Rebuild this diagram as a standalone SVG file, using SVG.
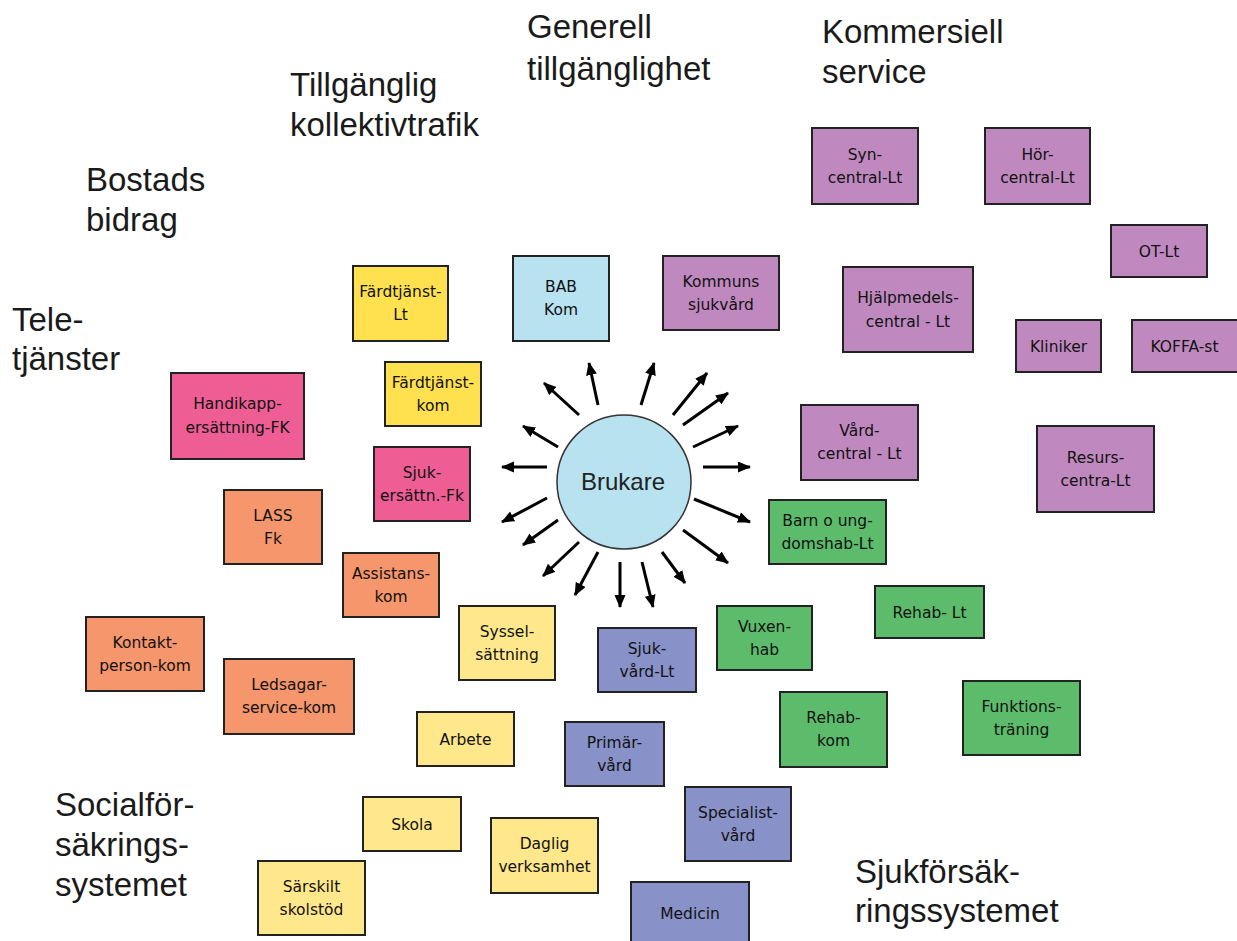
<svg xmlns="http://www.w3.org/2000/svg" width="1237" height="941" viewBox="0 0 1237 941">
<defs>
<marker id="ah" markerUnits="userSpaceOnUse" markerWidth="14" markerHeight="12" refX="12" refY="5.5" orient="auto">
<path d="M0,0 L13,5.5 L0,11 Z" fill="#000"/>
</marker>
<style>
.b rect{stroke:#222;stroke-width:2}
.b text{font-family:"DejaVu Sans","Liberation Sans",sans-serif;font-size:15.5px;fill:#111;text-anchor:middle}
.pu rect{fill:#bf89bf}
.gr rect{fill:#5cbc6c}
.bl rect{fill:#8892c8}
.lb rect{fill:#b8e2f0}
.ye rect{fill:#ffe150}
.pk rect{fill:#ee5e94}
.or rect{fill:#f5966c}
.ly rect{fill:#ffe88c}
.cat{font-family:"Liberation Sans",Arial,sans-serif;font-size:33px;fill:#1a1a1a}
.arr line{stroke:#000;stroke-width:3;marker-end:url(#ah)}
</style>
</defs>
<rect width="1237" height="941" fill="#fff"/>

<g id="labels">
<text class="cat" x="527" y="38">Generell</text>
<text class="cat" x="527" y="80">tillgänglighet</text>
<text class="cat" x="822" y="43">Kommersiell</text>
<text class="cat" x="822" y="83">service</text>
<text class="cat" x="290" y="96">Tillgänglig</text>
<text class="cat" x="290" y="136">kollektivtrafik</text>
<text class="cat" x="86" y="191">Bostads</text>
<text class="cat" x="86" y="231">bidrag</text>
<text class="cat" x="12" y="331">Tele-</text>
<text class="cat" x="12" y="370">tjänster</text>
<text class="cat" x="55" y="816">Socialför-</text>
<text class="cat" x="55" y="856">säkrings-</text>
<text class="cat" x="55" y="896">systemet</text>
<text class="cat" x="855" y="883">Sjukförsäk-</text>
<text class="cat" x="855" y="922">ringssystemet</text>
</g>

<g id="connectors" class="arr">
<line x1="579" y1="415" x2="544" y2="383"/>
<line x1="598" y1="405" x2="589" y2="363"/>
<line x1="641" y1="405" x2="654" y2="363"/>
<line x1="673" y1="415" x2="707" y2="373"/>
<line x1="683" y1="425" x2="728" y2="393"/>
<line x1="693" y1="447" x2="738" y2="426"/>
<line x1="703" y1="467" x2="750" y2="467"/>
<line x1="694" y1="499" x2="750" y2="522"/>
<line x1="683" y1="530" x2="728" y2="563"/>
<line x1="662" y1="552" x2="685" y2="583"/>
<line x1="642" y1="562" x2="653" y2="607"/>
<line x1="620" y1="562" x2="620" y2="607"/>
<line x1="598" y1="552" x2="575" y2="595"/>
<line x1="579" y1="542" x2="543" y2="576"/>
<line x1="558" y1="520" x2="523" y2="545"/>
<line x1="547" y1="498" x2="502" y2="522"/>
<line x1="547" y1="467" x2="502" y2="467"/>
<line x1="558" y1="447" x2="523" y2="426"/>
</g>

<g id="brukare">
<circle cx="624" cy="482" r="67" fill="#b8e2f0" stroke="#333" stroke-width="1.5"/>
<text x="623" y="490" font-family="Liberation Sans,Arial,sans-serif" font-size="24" fill="#222" text-anchor="middle">Brukare</text>
</g>

<g id="syn" class="b pu"><rect x="812" y="128" width="106" height="76"/><text x="865" y="160">Syn-</text><text x="865" y="183">central-Lt</text></g>
<g id="hor" class="b pu"><rect x="985" y="128" width="105" height="76"/><text x="1037.5" y="160">Hör-</text><text x="1037.5" y="183">central-Lt</text></g>
<g id="ot" class="b pu"><rect x="1111" y="225" width="96" height="52"/><text x="1159" y="257">OT-Lt</text></g>
<g id="kommuns" class="b pu"><rect x="663" y="256" width="116" height="74"/><text x="721" y="287">Kommuns</text><text x="721" y="310">sjukvård</text></g>
<g id="hjalp" class="b pu"><rect x="843" y="267" width="130" height="85"/><text x="908" y="303">Hjälpmedels-</text><text x="908" y="327">central - Lt</text></g>
<g id="kliniker" class="b pu"><rect x="1016" y="320" width="85" height="52"/><text x="1058.5" y="352">Kliniker</text></g>
<g id="koffa" class="b pu"><rect x="1132" y="320" width="106" height="52"/><text x="1184.5" y="352">KOFFA-st</text></g>
<g id="vard" class="b pu"><rect x="801" y="405" width="117" height="75"/><text x="859.5" y="436">Vård-</text><text x="859.5" y="459">central - Lt</text></g>
<g id="resurs" class="b pu"><rect x="1037" y="426" width="117" height="86"/><text x="1095.5" y="463">Resurs-</text><text x="1095.5" y="486">centra-Lt</text></g>

<g id="barn" class="b gr"><rect x="769" y="500" width="117" height="64"/><text x="827.5" y="526">Barn o ung-</text><text x="827.5" y="549">domshab-Lt</text></g>
<g id="rehablt" class="b gr"><rect x="875" y="586" width="109" height="52"/><text x="929.5" y="618">Rehab- Lt</text></g>
<g id="funktion" class="b gr"><rect x="963" y="681" width="117" height="74"/><text x="1021.5" y="712">Funktions-</text><text x="1021.5" y="735">träning</text></g>
<g id="vuxen" class="b gr"><rect x="717" y="606" width="95" height="64"/><text x="764.5" y="632">Vuxen-</text><text x="764.5" y="655">hab</text></g>
<g id="rehabkom" class="b gr"><rect x="780" y="692" width="107" height="75"/><text x="833.5" y="723">Rehab-</text><text x="833.5" y="746">kom</text></g>

<g id="sjukvard" class="b bl"><rect x="598" y="628" width="98" height="64"/><text x="647" y="654">Sjuk-</text><text x="647" y="677">vård-Lt</text></g>
<g id="primar" class="b bl"><rect x="565" y="722" width="99" height="64"/><text x="614.5" y="748">Primär-</text><text x="614.5" y="771">vård</text></g>
<g id="specialist" class="b bl"><rect x="685" y="787" width="106" height="74"/><text x="738" y="818">Specialist-</text><text x="738" y="841">vård</text></g>
<g id="medicin" class="b bl"><rect x="631" y="882" width="118" height="70"/><text x="690" y="919">Medicin</text></g>

<g id="bab" class="b lb"><rect x="513" y="256" width="96" height="85"/><text x="561" y="292">BAB</text><text x="561" y="315">Kom</text></g>

<g id="fardlt" class="b ye"><rect x="353" y="266" width="95" height="75"/><text x="400.5" y="297">Färdtjänst-</text><text x="400.5" y="320">Lt</text></g>
<g id="fardkom" class="b ye"><rect x="385" y="362" width="96" height="64"/><text x="433" y="388">Färdtjänst-</text><text x="433" y="411">kom</text></g>

<g id="handikapp" class="b pk"><rect x="171" y="373" width="133" height="86"/><text x="237.5" y="409">Handikapp-</text><text x="237.5" y="433">ersättning-FK</text></g>
<g id="sjukers" class="b pk"><rect x="374" y="447" width="96" height="74"/><text x="422" y="478">Sjuk-</text><text x="422" y="501">ersättn.-Fk</text></g>

<g id="lass" class="b or"><rect x="224" y="490" width="98" height="74"/><text x="273" y="521">LASS</text><text x="273" y="544">Fk</text></g>
<g id="assistans" class="b or"><rect x="343" y="553" width="96" height="64"/><text x="391" y="579">Assistans-</text><text x="391" y="602">kom</text></g>
<g id="kontakt" class="b or"><rect x="86" y="617" width="118" height="74"/><text x="145" y="648">Kontakt-</text><text x="145" y="671">person-kom</text></g>
<g id="ledsagar" class="b or"><rect x="224" y="659" width="130" height="75"/><text x="289" y="690">Ledsagar-</text><text x="289" y="713">service-kom</text></g>

<g id="syssel" class="b ly"><rect x="459" y="606" width="96" height="74"/><text x="507" y="637">Syssel-</text><text x="507" y="660">sättning</text></g>
<g id="arbete" class="b ly"><rect x="417" y="712" width="97" height="54"/><text x="465.5" y="745">Arbete</text></g>
<g id="skola" class="b ly"><rect x="363" y="797" width="98" height="54"/><text x="412" y="830">Skola</text></g>
<g id="daglig" class="b ly"><rect x="491" y="818" width="107" height="75"/><text x="544.5" y="849">Daglig</text><text x="544.5" y="872">verksamhet</text></g>
<g id="sarskilt" class="b ly"><rect x="258" y="861" width="107" height="74"/><text x="311.5" y="892">Särskilt</text><text x="311.5" y="915">skolstöd</text></g>
</svg>
